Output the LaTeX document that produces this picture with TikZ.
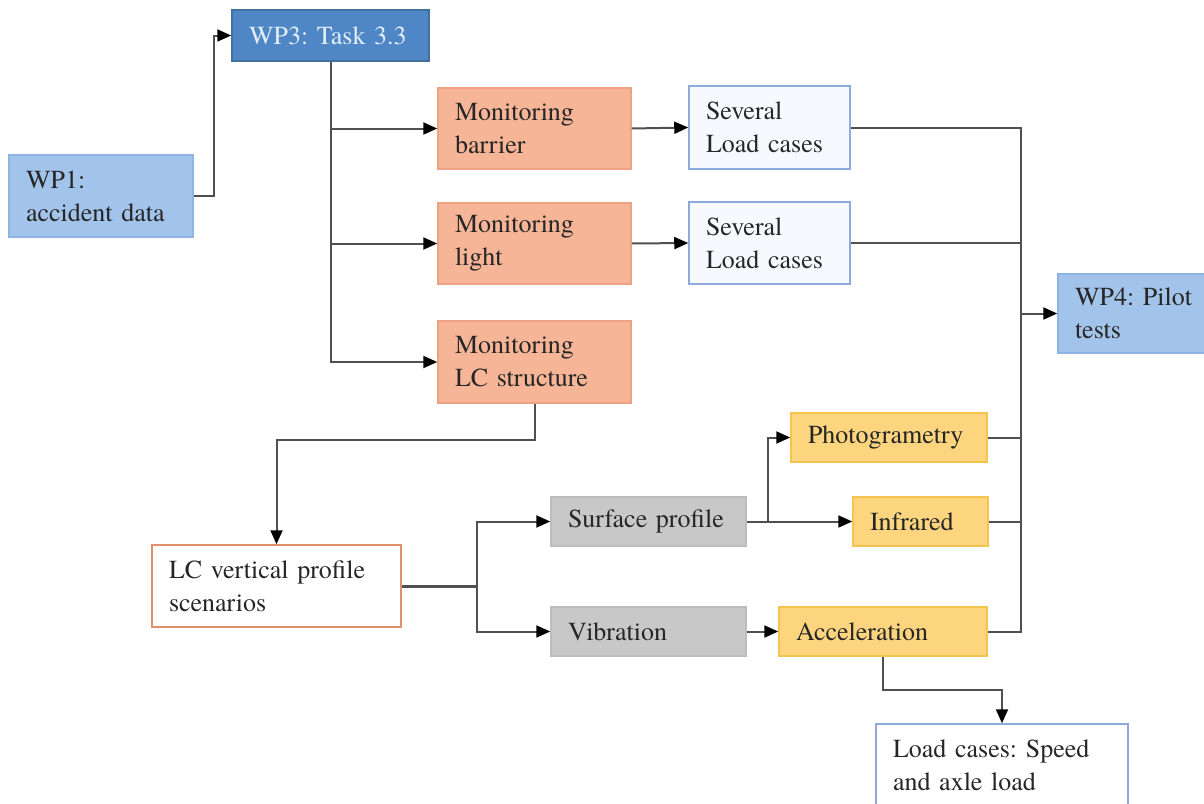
\documentclass[tikz,border=0pt]{standalone}
\usepackage{fontspec}
\setmainfont{TeX Gyre Termes}
\usetikzlibrary{arrows.meta,calc}
\definecolor{linec}{HTML}{505050}
\definecolor{txt}{HTML}{262626}
\definecolor{wpdark}{HTML}{4F87C6}
\definecolor{wpdarkb}{HTML}{41719C}
\definecolor{wplight}{HTML}{A2C3EA}
\definecolor{wplightb}{HTML}{8EB4E3}
\definecolor{salmon}{HTML}{F6B597}
\definecolor{salmonb}{HTML}{EFA283}
\definecolor{paleblue}{HTML}{F6FAFF}
\definecolor{palebb}{HTML}{8EAADB}
\definecolor{yel}{HTML}{FDD57E}
\definecolor{yelb}{HTML}{F5C44E}
\definecolor{gry}{HTML}{C8C8C8}
\definecolor{gryb}{HTML}{BDBDBD}
\definecolor{orb}{HTML}{E0906A}
\begin{document}
\begin{tikzpicture}[x=1pt,y=-1pt,
  every node/.style={font=\rmfamily\frenchspacing\fontsize{26}{33}\selectfont, text=txt},
  box/.style args={#1/#2}{draw, line width=1.5pt, rectangle, inner xsep=17pt, inner ysep=0pt,
     minimum width=#1pt, minimum height=#2pt, text width=#1pt-34pt, align=left},
  wpd/.style={fill=wpdark, draw=wpdarkb, text=white!85!wpdark},
  wpl/.style={fill=wplight, draw=wplightb},
  mon/.style={fill=salmon, draw=salmonb},
  sev/.style={fill=paleblue, draw=palebb},
  yl/.style={fill=yel, draw=yelb},
  gr/.style={fill=gry, draw=gryb},
  wline/.style={draw=linec, line width=2pt},
  arr/.style={wline, -{Triangle[length=14pt,width=12pt,color=black]}}
]
\useasboundingbox (0,0) rectangle (1204,803);

\node[box=197/51, wpd] (wp3) at (330.5,35.5) {\mbox{WP3: Task 3.3}};
\node[box=184/82, wpl] (wp1) at (101,196) {WP1:\\\mbox{accident data}};
\node[box=193/81, mon] (monB) at (534.5,128.5) {Monitoring\\barrier};
\node[box=161/83, sev] (sev1) at (769.5,127.5) {Several\\\mbox{Load cases}};
\node[box=193/81, mon] (monL) at (534.5,243.5) {Monitoring\\light};
\node[box=161/82, sev] (sev2) at (769.5,243) {Several\\\mbox{Load cases}};
\node[box=193/82, mon] (monS) at (534.5,362) {Monitoring\\\mbox{LC structure}};
\node[box=150/79, wpl] (wp4) at (1133,313.5) {\mbox{WP4: Pilot}\\tests};
\node[box=196/49, yl] (photo) at (889,437.5) {Photogrametry};
\node[box=135/49, yl] (infra) at (920.5,521.5) {Infrared};
\node[box=195/49, gr] (surf) at (648.5,521.5) {\mbox{Surface profile}};
\node[box=195/49, gr] (vib) at (648.5,631.5) {Vibration};
\node[box=208/49, yl] (acc) at (883,631.5) {Acceleration};
\node[box=249/82, fill=white, draw=orb] (lcv) at (276.5,586) {\mbox{LC vertical profile}\\scenarios};
\node[box=252/82, fill=white, draw=palebb] (lcs) at (1002,765) {\mbox{Load cases: Speed}\\\mbox{and axle load}};

\coordinate (bx) at (1021,0);
\coordinate (sx) at (477,0);
\coordinate (px) at (768,0);

\draw[arr] (wp1.east) -- ++(20,0) |- (wp3.west);
\draw[arr] (wp3.south) |- (monS.west);
\draw[arr] (wp3.south |- monB.west) -- (monB.west);
\draw[arr] (wp3.south |- monL.west) -- (monL.west);
\draw[arr] (monB.east) -- (sev1.west);
\draw[arr] (monL.east) -- (sev2.west);
\draw[wline] (sev1.east) -| (bx |- acc.east) -- (acc.east);
\draw[wline] (sev2.east) -- (sev2.east -| bx);
\draw[wline] (photo.east) -- (photo.east -| bx);
\draw[wline] (infra.east) -- (infra.east -| bx);
\draw[arr] (bx |- wp4.west) -- (wp4.west);
\draw[arr] (monS.south) -- ++(0,36) -| (lcv.north);
\draw[wline, line width=3pt] (lcv.east) -- (lcv.east -| sx);
\draw[arr] (sx |- lcv.east) |- (surf.west);
\draw[arr] (sx |- lcv.east) |- (vib.west);
\draw[arr] (surf.east) -- (infra.west);
\draw[arr] (px |- surf.east) |- (photo.west);
\draw[arr] (vib.east) -- (acc.west);
\draw[arr] (acc.south) -- ++(0,33) -| (lcs.north);
\end{tikzpicture}
\end{document}
